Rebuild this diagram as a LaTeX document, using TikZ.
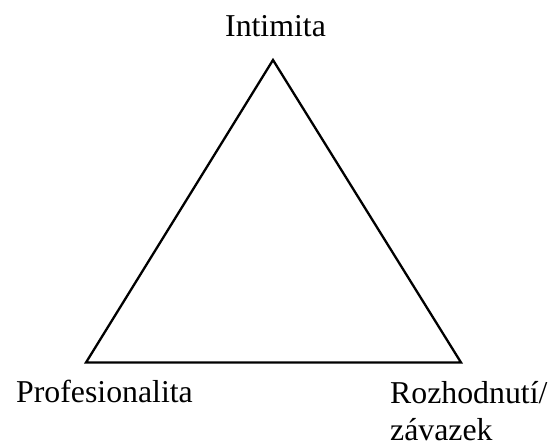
\documentclass[tikz,border=0pt]{standalone}
\usepackage{fontspec}
\setmainfont{Liberation Serif}
\begin{document}
\begin{tikzpicture}[x=1pt,y=-1pt,
  lbl/.style={inner sep=0pt,font=\fontsize{31.8}{37}\selectfont},
  edge/.style={draw=black,line width=2.3pt,line join=miter}]
\useasboundingbox (0,0) rectangle (554,443);
\coordinate (top) at (273,60);
\coordinate (bl) at (86,362.5);
\coordinate (br) at (461,362.5);
\draw[edge] (top) -- (bl) -- (br) -- cycle;
\node[lbl,anchor=base] (intim) at (275.5,37) {Intimita};
\node[lbl,anchor=base west] (prof) at (16,402) {Profesionalita};
\node[lbl,anchor=base west,align=left] (rozh) at (390,440) {Rozhodnutí/\\závazek};
\end{tikzpicture}
\end{document}
